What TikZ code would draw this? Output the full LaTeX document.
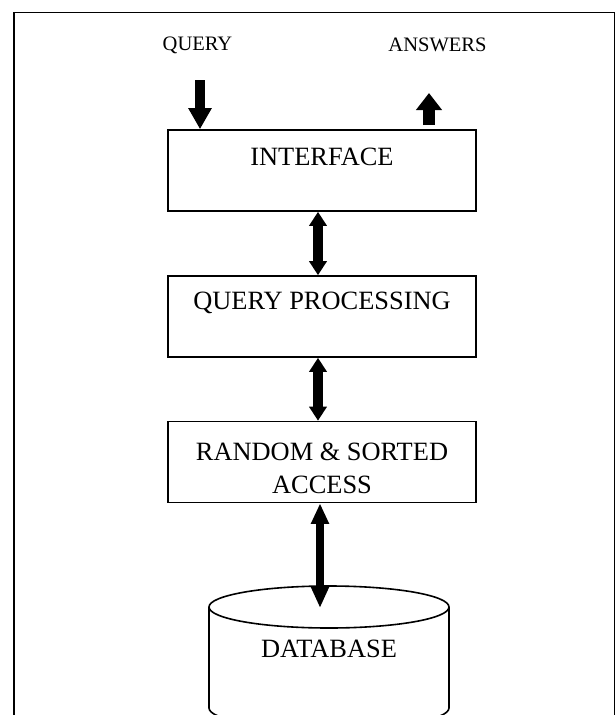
\documentclass[tikz,border=0pt]{standalone}
\usepackage{fontspec}
\setmainfont{Liberation Serif}
\usetikzlibrary{arrows.meta}
\tikzset{
layer/.style={draw, line width=1.2pt, minimum width=231pt, minimum height=60.75pt, inner sep=0pt}, % empty box of one layer
layer text/.style={font=\fontsize{19.8pt}{24.75pt}\selectfont, align=center, inner sep=0pt}, % text near the top of a box
io text/.style={font=\fontsize{15.4pt}{18pt}\selectfont, inner sep=0pt}, % labels above the boxes
link/.style={line width=7pt, {Triangle[width=12.75pt,length=10.5pt]}-{Triangle[width=12.75pt,length=10.5pt]}}, % two-way arrow between layers
deep link/.style={line width=5.5pt, {Triangle[width=12.75pt,length=15.5pt]}-{Triangle[width=12.75pt,length=16pt]}},
query in/.style={line width=7.5pt, -{Triangle[width=16.5pt,length=15.75pt]}},
answer out/.style={line width=9pt, -{Triangle[width=18.75pt,length=12.75pt]}},
}

\begin{document}
\begin{tikzpicture}[x=0.75pt, y=-0.75pt]
\useasboundingbox (0,0) rectangle (616,715);
\clip (0,0) rectangle (616,715);

% frame, open at the bottom
\draw[line width=1.1pt] (14,715) -- (14,12.5) -- (614.3,12.5) -- (614.3,715);

\node[io text] at (197.5,45) (query) {QUERY};
\node[io text] at (437.5,45) (answers) {ANSWERS};

\node[layer] at (322,170.5) (iface) {};
\node[layer] at (322,316.5) (qp) {};
\node[layer] at (322,462) (rsa) {};

\node[layer text] at (322,157) (ifacetext) {INTERFACE};
\node[layer text] at (322,302.5) (qptext) {QUERY PROCESSING};
\node[layer text] at (322,468.5) (rsatext) {RANDOM \& SORTED\\ACCESS};

% the database drum
\draw[line width=1.2pt] (209,607) -- (209,708) arc[start angle=180, end angle=0, x radius=120, y radius=21] -- (449,607);
\draw[line width=1.2pt] (329,607) ellipse[x radius=120, y radius=21];
\node[layer text] at (329,648.5) (db) {DATABASE};
\coordinate (dbtop) at (329,608);

\coordinate (qin) at (200,80);
\coordinate (aout) at (429,93);

\draw[query in] (qin) -- (qin |- iface.north);
\draw[answer out] ([yshift=3pt]aout |- iface.north) -- (aout);
\draw[link] ([xshift=-3pt]iface.south) -- ([xshift=-3pt]qp.north);
\draw[link] ([xshift=-3pt]qp.south) -- ([xshift=-3pt]rsa.north);
\draw[deep link] ([xshift=-1.5pt]rsa.south) -- ([xshift=-1.5pt]rsa.south |- dbtop);
\end{tikzpicture}
\end{document}
